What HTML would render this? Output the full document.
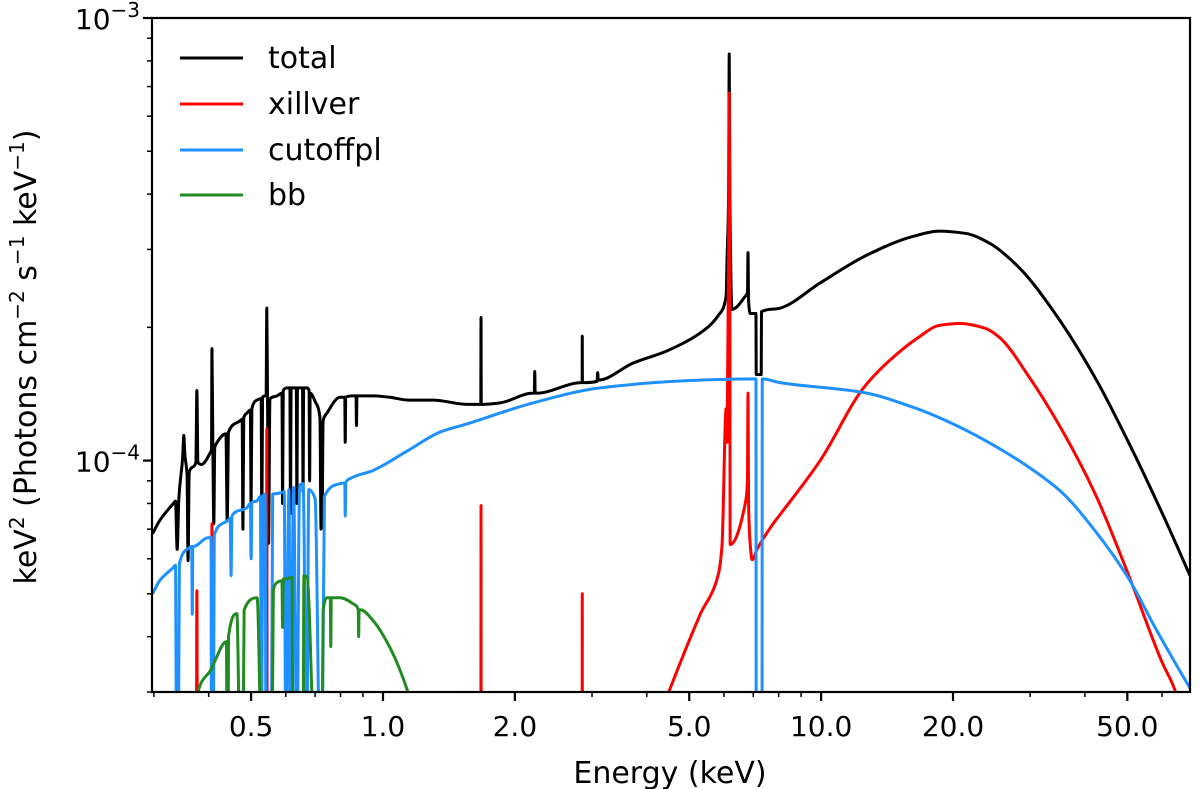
<!DOCTYPE html>
<html><head><meta charset="utf-8"><title>Spectrum model components</title>
<style>
html,body{margin:0;padding:0;background:#fff;}
svg{display:block;font-family:"DejaVu Sans","Liberation Sans",sans-serif;}
</style></head>
<body>
<svg id="chart" width="1200" height="789" viewBox="0 0 1200 789" xmlns="http://www.w3.org/2000/svg">
<defs><clipPath id="plotclip"><rect x="152" y="18" width="1038" height="674"/></clipPath></defs>
<rect x="0" y="0" width="1200" height="789" fill="#fff"/>
<g id="series" clip-path="url(#plotclip)"></g>
<g id="axes"></g>
<g font-size="30" fill="#000">
  <line x1="180" y1="58" x2="243" y2="58" stroke="#000" stroke-width="3"/>
  <text x="268" y="68">total</text>
  <line x1="180" y1="104" x2="243" y2="104" stroke="#ff0000" stroke-width="3"/>
  <text x="268" y="114">xillver</text>
  <line x1="180" y1="150" x2="243" y2="150" stroke="#1e90ff" stroke-width="3"/>
  <text x="268" y="160">cutoffpl</text>
  <line x1="180" y1="195" x2="243" y2="195" stroke="#228b22" stroke-width="3"/>
  <text x="268" y="205">bb</text>
</g>
<text x="670" y="783" text-anchor="middle" font-size="30">Energy (keV)</text>
<text transform="translate(36,357) rotate(-90)" text-anchor="middle" font-size="30">keV<tspan font-size="20" dy="-12">2</tspan><tspan dy="12"> (Photons cm</tspan><tspan font-size="20" dy="-12">−2</tspan><tspan dy="12"> s</tspan><tspan font-size="20" dy="-12">−1</tspan><tspan dy="12"> keV</tspan><tspan font-size="20" dy="-12">−1</tspan><tspan dy="12">)</tspan></text>
</svg>
<script>
// x: energy (keV), y: keV^2 flux in units of 1e-5
const xTicks = [0.5, 1, 2, 5, 10, 20, 50];
const xTickLabels = ["0.5", "1.0", "2.0", "5.0", "10.0", "20.0", "50.0"];
const yMajorTicks = [1e-4, 1e-3];
const yMajorLabels = ["−4", "−3"];

const totalE = [0.298,0.309,0.332,0.336,0.339,0.342,0.349,0.351,0.353,0.357,0.359,0.361,0.362,0.374,0.376,0.378,0.385,0.403,0.406,0.407,0.409,0.411,0.413,0.416,0.438,0.441,0.444,0.472,0.477,0.479,0.481,0.489,0.498,0.50,0.502,0.516,0.527,0.529,0.531,0.538,0.541,0.543,0.545,0.548,0.552,0.573,0.588,0.59,0.592,0.604,0.613,0.615,0.617,0.623,0.634,0.636,0.638,0.645,0.655,0.657,0.659,0.671,0.678,0.68,0.682,0.70,0.718,0.722,0.726,0.73,0.745,0.798,0.818,0.82,0.822,0.854,0.868,0.87,0.872,0.949,1.037,1.14,1.30,1.555,1.66,1.672,1.674,1.676,1.69,1.849,2.20,2.215,2.22,2.225,2.24,2.84,2.848,2.85,2.852,2.87,3.08,3.09,3.1,3.72,4.45,5.29,5.83,6.07,6.10,6.15,6.17,6.19,6.26,6.71,6.79,6.81,6.83,6.89,7.10,7.11,7.30,7.31,8.06,9.95,12.7,16.2,18.6,21.4,24.2,28.3,34.2,42.2,51.0,60.7,69.5];
const totalV = [6.84,7.31,7.99,8.1,6.3,8.2,10.2,11.4,10.3,9.3,5.94,9.3,9.49,9.9,14.4,9.9,9.8,10.4,10.6,17.9,10.6,7.2,10.7,10.9,11.5,7.3,11.6,12.3,12.4,7.0,12.5,12.8,13.0,8.0,13.1,13.7,13.8,7.0,13.9,14.0,14.0,22.1,14.0,6.5,13.8,14.0,14.2,8.0,14.4,14.6,14.6,7.6,14.6,14.6,14.6,8.0,14.6,14.6,14.6,8.5,14.6,14.6,14.4,9.0,14.2,13.6,12.5,7.0,7.3,12.3,12.8,13.9,13.9,11.0,13.9,14.0,14.0,12.0,14.0,14.0,13.9,13.7,13.7,13.4,13.4,13.4,21.05,13.4,13.4,13.5,14.2,14.2,15.9,14.2,14.2,15.0,15.0,19.1,15.0,15.0,15.1,15.8,15.2,16.6,17.7,19.4,21.3,23.5,28.5,40,82.9,40,21.97,23.5,24.0,29.5,23.0,21.5,21.5,15.65,15.65,21.7,22.1,25.2,29.1,32.1,33.0,32.6,31.0,27.3,21.5,15.4,10.7,7.43,5.5];

const xillE = [0.297,0.375,0.376,0.377,0.406,0.407,0.408,0.542,0.543,0.544,1.673,1.674,1.675,2.849,2.85,2.851,4.0,4.52,5.29,5.83,5.94,6.07,6.10,6.15,6.17,6.19,6.20,6.71,6.79,6.81,6.83,6.89,6.96,7.15,7.77,8.06,9.95,12.5,14.3,16.7,18.6,20.7,23.7,25.5,29.9,35.5,42.2,50.2,59.8,64.6,69.5];
const xillV = [1,1,5.08,1,1,7.2,1,1,11.8,1,1,7.91,1,1,5.0,1,2.2,3.05,4.48,5.55,6.42,13.1,11.0,30,67.7,30,6.46,7.99,9.0,14.2,8.0,6.46,5.97,6.32,7.2,7.55,10.0,14.6,16.8,19.0,20.2,20.4,19.9,19.0,15.4,11.7,8.42,5.55,3.53,2.98,1.5];

const cutE = [0.298,0.309,0.332,0.336,0.338,0.341,0.343,0.362,0.366,0.367,0.368,0.37,0.397,0.405,0.406,0.41,0.412,0.441,0.448,0.45,0.452,0.489,0.498,0.50,0.502,0.515,0.525,0.528,0.532,0.538,0.541,0.556,0.56,0.573,0.595,0.60,0.61,0.615,0.625,0.636,0.645,0.657,0.67,0.677,0.70,0.718,0.726,0.735,0.798,0.818,0.82,0.822,0.84,0.949,1.134,1.35,1.555,2.20,3.13,5.29,7.10,7.11,7.33,7.34,8.06,12.5,16.2,19.3,23.7,29.9,35.5,42.2,50.2,57.9,65.3,69.5];
const cutV = [5.0,5.35,5.73,5.8,2,2,5.85,6.36,6.4,4.5,6.4,6.4,6.69,6.7,2,2,6.8,7.31,7.4,5.5,7.5,7.83,8.0,6.0,8.05,8.1,8.3,2,8.3,8.4,2,2,8.4,8.42,8.5,2,8.6,2,8.7,2,8.8,8.87,2,8.6,8.2,2,2,8.3,8.87,8.9,7.5,8.9,9.1,9.5,10.5,11.6,12.1,13.5,14.6,15.2,15.3,2,2,15.3,15.0,14.25,13.2,12.3,11.1,9.64,8.46,6.94,5.44,4.19,3.40,3.06];

const bbE = [0.37,0.378,0.407,0.412,0.439,0.441,0.443,0.444,0.464,0.472,0.479,0.482,0.516,0.529,0.558,0.562,0.573,0.588,0.59,0.592,0.60,0.62,0.623,0.657,0.66,0.671,0.70,0.726,0.73,0.745,0.758,0.76,0.762,0.77,0.798,0.854,0.878,0.88,0.882,0.89,0.949,1.037,1.14,1.2];
const bbV = [1,3.0,3.4,3.5,3.9,2,2,4.0,4.51,2,2,4.6,4.9,2,2,5.1,5.3,5.35,4.2,5.4,5.4,5.45,2,2,5.5,5.45,2,2,4.58,4.9,4.9,3.8,4.9,4.9,4.9,4.75,4.6,4.0,4.6,4.6,4.35,3.78,3.0,2.5];

const X0 = 152, X1 = 1190, Y0 = 18, Y1 = 692;
const EMIN = 0.297, EMAX = 69.5, VMIN = 3e-5, VMAX = 1e-3;
function xScale(e){ return X0 + (Math.log10(e) - Math.log10(EMIN)) / (Math.log10(EMAX) - Math.log10(EMIN)) * (X1 - X0); }
function yScale(v){ return Y0 + (Math.log10(VMAX) - Math.log10(v)) / (Math.log10(VMAX) - Math.log10(VMIN)) * (Y1 - Y0); }

const NS = "http://www.w3.org/2000/svg";
const seriesG = document.getElementById("series");
const axesG = document.getElementById("axes");

function monotonePath(px, py){
  const n = px.length;
  if (n < 2) return "";
  const dx = [], m = [], t = new Array(n);
  for (let i = 0; i < n - 1; i++){ dx.push(px[i+1]-px[i]); m.push((py[i+1]-py[i]) / (dx[i] || 1e-6)); }
  t[0] = m[0]; t[n-1] = m[n-2];
  for (let i = 1; i < n - 1; i++){
    if (m[i-1] * m[i] <= 0) t[i] = 0;
    else {
      const w1 = 2*dx[i] + dx[i-1], w2 = dx[i] + 2*dx[i-1];
      t[i] = (w1 + w2) / (w1 / m[i-1] + w2 / m[i]);
    }
  }
  let d = "M" + px[0].toFixed(2) + "," + py[0].toFixed(2);
  for (let i = 0; i < n - 1; i++){
    const h = dx[i] / 3;
    d += "C" + (px[i]+h).toFixed(2) + "," + (py[i]+t[i]*h).toFixed(2) + " " +
         (px[i+1]-h).toFixed(2) + "," + (py[i+1]-t[i+1]*h).toFixed(2) + " " +
         px[i+1].toFixed(2) + "," + py[i+1].toFixed(2);
  }
  return d;
}

function drawLine(es, vs, color, name){
  const px = [], py = [];
  for (let i = 0; i < es.length; i++){
    px.push(xScale(es[i]));
    py.push(Math.min(yScale(vs[i] * 1e-5), 760));
  }
  const p = document.createElementNS(NS, "path");
  p.setAttribute("d", monotonePath(px, py));
  p.setAttribute("fill", "none");
  p.setAttribute("stroke", color);
  p.setAttribute("stroke-width", "3");
  p.setAttribute("stroke-linejoin", "round");
  
  
  seriesG.appendChild(p);
}
drawLine(totalE, totalV, "#000000", "total-line");
drawLine(xillE, xillV, "#ff0000", "xillver-line");
drawLine(cutE, cutV, "#1e90ff", "cutoffpl-line");
drawLine(bbE, bbV, "#228b22", "bb-line");

function mk(tag, attrs){
  const el = document.createElementNS(NS, tag);
  for (const k in attrs) el.setAttribute(k, attrs[k]);
  axesG.appendChild(el);
  return el;
}
const frame = mk("rect", {x:X0, y:Y0, width:X1-X0, height:Y1-Y0, fill:"none", stroke:"#000", "stroke-width":"2.2"});



for (let dec = -1; dec <= 1; dec++){
  for (let m = 1; m <= 9; m++){
    const e = m * Math.pow(10, dec);
    if (e < EMIN || e > EMAX) continue;
    if (xTicks.indexOf(+e.toPrecision(3)) >= 0) continue;
    const t = mk("line", {x1:xScale(e), x2:xScale(e), y1:Y1, y2:Y1+5, stroke:"#000", "stroke-width":"1.5"});
    
    
  }
}
xTicks.forEach((e, i) => {
  const t = mk("line", {x1:xScale(e), x2:xScale(e), y1:Y1, y2:Y1+9, stroke:"#000", "stroke-width":"2.2"});
  
  
  const lb = mk("text", {x:xScale(e), y:Y1+44, "text-anchor":"middle", "font-size":"28"});
  lb.textContent = xTickLabels[i];
  
  
});
for (let dec = -5; dec <= -4; dec++){
  for (let m = 2; m <= 9; m++){
    const v = m * Math.pow(10, dec);
    if (v < VMIN*0.999 || v > VMAX) continue;
    const t = mk("line", {x1:X0-5, x2:X0, y1:yScale(v), y2:yScale(v), stroke:"#000", "stroke-width":"1.5"});
    
    
  }
}
yMajorTicks.forEach((v, i) => {
  const y = yScale(v);
  const t = mk("line", {x1:X0-9, x2:X0, y1:y, y2:y, stroke:"#000", "stroke-width":"2.2"});
  
  
  const lb = mk("text", {x:X0-12, y:y+11, "text-anchor":"end", "font-size":"28"});
  
  
  const a = document.createElementNS(NS, "tspan"); a.textContent = "10";
  const b = document.createElementNS(NS, "tspan"); b.setAttribute("font-size", "20"); b.setAttribute("dy", "-12"); b.textContent = yMajorLabels[i];
  lb.appendChild(a); lb.appendChild(b);
});
</script>
</body></html>
